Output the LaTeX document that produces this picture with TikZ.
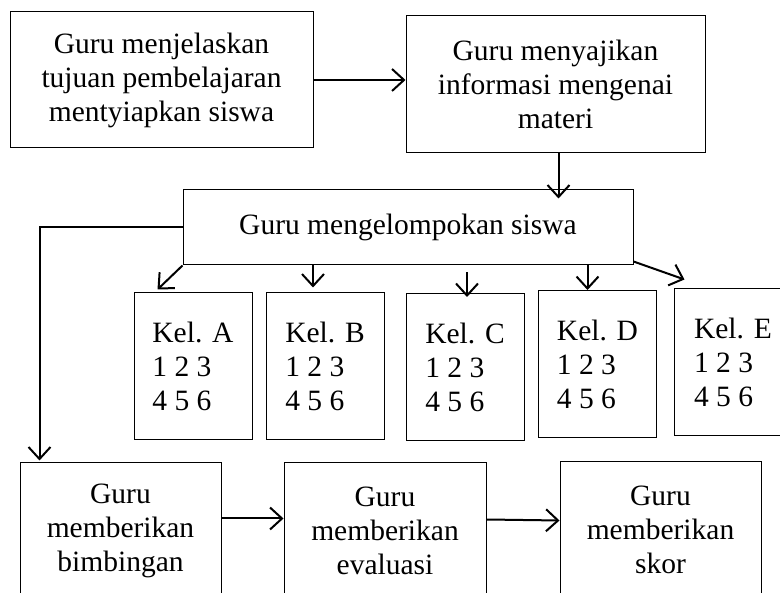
\documentclass[tikz,border=0pt]{standalone}
\usepackage{fontspec}
\setmainfont{Liberation Serif}
\usepackage{tikz}
\usetikzlibrary{calc, positioning, arrows.meta}

\begin{document}
\begin{tikzpicture}[x=1pt, y=-1pt,
    every node/.style={font=\fontsize{29.5pt}{34pt}\selectfont, inner sep=1pt},
    kotak/.style={draw, line width=1pt, align=center},
    kel/.style={draw, line width=1pt, align=left, minimum width=118pt, minimum height=147pt},
    panah/.style={line width=2pt, -{Straight Barb[length=12pt, width=22pt]}}]

    % 0. ukuran gambar
    \useasboundingbox (0,0) rectangle (780,593);
    \clip (0,0) rectangle (780,593);

    % 1. dua kotak atas
    \node[kotak, minimum width=303pt, minimum height=136pt] (jelas) at (161.5, 80)
        {Guru menjelaskan\\tujuan pembelajaran\\mentyiapkan siswa};
    \node[kotak, minimum width=299pt, minimum height=137pt] (saji) at (555.5, 84.5)
        {Guru menyajikan\\informasi mengenai\\materi};

    % 2. kotak pengelompokan
    \node[kotak, minimum width=450pt, minimum height=75pt] (grup) at (408, 227.5)
        {Guru mengelompokan siswa};

    % 3. lima kelompok (tinggi sedikit berbeda)
    \foreach \k/\x/\y in {A/193/366.5, B/325/366.5, C/465/367, D/597.5/364, E/733/362.5} {
        \node[kel] (kel\k) at (\x, \y) {Kel. \k\\1 2 3\\4 5 6};
    }

    % 4. tiga kotak bawah (terpotong di tepi bawah)
    \node[kotak, minimum width=201pt, minimum height=135pt] (bimb) at (120.5, 530.5)
        {Guru\\memberikan\\bimbingan};
    \node[kotak, minimum width=202pt, minimum height=135pt] (eval) at (385, 530.5)
        {Guru\\memberikan\\evaluasi};
    \node[kotak, minimum width=201pt, minimum height=136pt] (skor) at (660.5, 530)
        {Guru\\memberikan\\skor};

    % 5. panah alur
    \draw[panah] (jelas.east) -- (jelas.east -| saji.west);
    \draw[panah] ($(saji.south)+(3,0)$) -- ($(saji.south |- grup.north)+(3,9)$);
    \draw[panah] (grup.west) -| ($(bimb.north west)+(20,-2)$);

    % panah ke kelompok
    \draw[panah] (grup.south west) -- ($(kelA.north west)+(24,-3)$);
    \draw[panah] ($(grup.south -| kelB.north)+(-12,0)$) -- ($(kelB.north)+(-12,-5)$);
    \draw[panah] ($(grup.south -| kelC.north)+(2,7)$) -- ($(kelC.north)+(2,4)$);
    \draw[panah] ($(grup.south -| kelD.north)+(-10,0)$) -- ($(kelD.north)+(-10,0)$);
    \draw[panah] ($(grup.south east)+(0,-4)$) -- ($(kelE.north west)+(11,-9)$);

    % panah bawah
    \draw[panah] ($(bimb.east)+(0,-12)$) -- ($(bimb.east -| eval.west)+(0,-12)$);
    \draw[panah] ($(eval.east)+(0,-11)$) -- ($(eval.east -| skor.west)+(0,-10)$);

\end{tikzpicture}
\end{document}
